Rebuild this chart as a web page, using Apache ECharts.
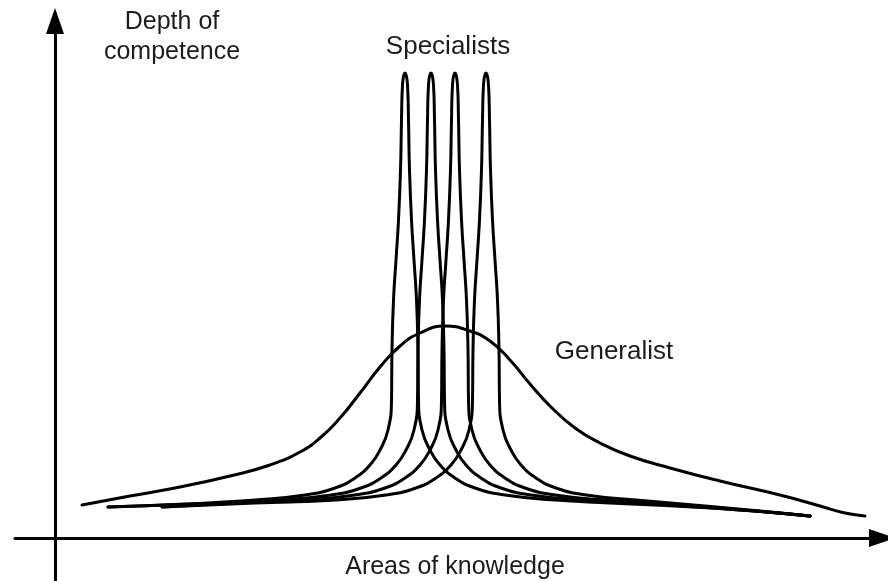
<!DOCTYPE html>
<html>
<head>
<meta charset="utf-8">
<script src="https://cdn.jsdelivr.net/npm/echarts@6/dist/echarts.min.js"></script>
<style>
  html, body { margin: 0; padding: 0; background: #fff; }
  #chart { width: 888px; height: 581px; }
</style>
</head>
<body>
<div id="chart"></div>
<script>
// x = distance along "areas of knowledge", y = depth of competence
const generalist = [
  [27, 33], [75, 42], [125, 51], [175, 62], [215, 73], [245, 86], [265, 100], [285, 120],
  [305, 145], [325, 171], [345, 192], [365, 205], [390, 212], [415, 207], [435, 197],
  [455, 178], [475, 154], [495, 132], [520, 110], [545, 95], [575, 82], [615, 70],
  [665, 57], [725, 43], [765, 32], [790, 25], [810, 22]
]

const specialist1 = [
  [53, 31], [130, 34], [200, 38], [250, 43], [280, 50], [300, 60], [315, 73], [325, 88],
  [333, 108], [336.5, 138], [337, 188], [338.5, 238], [341, 278], [343.5, 318], [345.5, 368],
  [346.5, 418], [347.5, 453], [350, 465],
  [352.5, 453], [353.5, 418], [354.5, 368], [356.5, 318], [359, 278], [361.5, 238], [363, 188],
  [363.5, 138], [367, 108], [375, 88], [385, 73], [400, 60], [420, 50], [450, 43], [500, 38],
  [620, 32], [700, 27], [755, 22]
]

const specialist2 = [
  [53, 31], [140, 34], [226, 38], [276, 43], [306, 50], [326, 60], [341, 73], [351, 88],
  [359, 108], [362.5, 138], [363, 188], [364.5, 238], [367, 278], [369.5, 318], [371.5, 368],
  [372.5, 418], [373.5, 453], [376, 465],
  [378.5, 453], [379.5, 418], [380.5, 368], [382.5, 318], [385, 278], [387.5, 238], [389, 188],
  [389.5, 138], [393, 108], [401, 88], [411, 73], [426, 60], [446, 50], [476, 43], [526, 38],
  [630, 32], [700, 27], [755, 22]
]

const specialist3 = [
  [107, 31], [180, 35], [250, 38], [300, 43], [330, 50], [350, 60], [365, 73], [375, 88],
  [383, 108], [386.5, 138], [387, 188], [388.5, 238], [391, 278], [393.5, 318], [395.5, 368],
  [396.5, 418], [397.5, 453], [400, 465],
  [402.5, 453], [403.5, 418], [404.5, 368], [406.5, 318], [409, 278], [411.5, 238], [413, 188],
  [413.5, 138], [417, 108], [425, 88], [435, 73], [450, 60], [470, 50], [500, 43], [550, 38],
  [640, 32], [700, 27], [755, 22]
]

const specialist4 = [
  [107, 31], [200, 35], [281, 38], [331, 43], [361, 50], [381, 60], [396, 73], [406, 88],
  [414, 108], [417.5, 138], [418, 188], [419.5, 238], [422, 278], [424.5, 318], [426.5, 368],
  [427.5, 418], [428.5, 453], [431, 465],
  [433.5, 453], [434.5, 418], [435.5, 368], [437.5, 318], [440, 278], [442.5, 238], [444, 188],
  [444.5, 138], [448, 108], [456, 88], [466, 73], [481, 60], [501, 50], [531, 43], [581, 38],
  [650, 32], [705, 27], [755, 22]
]

const xAxisName = 'Areas of knowledge'
const yAxisName = 'Depth of\ncompetence'
const specialistLabel = 'Specialists'
const generalistLabel = 'Generalist'

const chart = echarts.init(document.getElementById('chart'))

const lineStyle = { color: '#000', width: 3, cap: 'round', join: 'round' }
const textColor = '#1c1c1c'
const font = 'Liberation Sans, Arial, sans-serif'

// all curves share the same look
function curve(name, data) {
  return {
    name: name,
    type: 'line',
    data: data,
    showSymbol: false,
    smooth: 0.5,
    lineStyle: lineStyle,
    silent: true,
    animation: false
  }
}

function label(text, x, y, size) {
  return {
    type: 'text', x: x, y: y,
    style: {
      text: text, fill: textColor, fontSize: size, fontFamily: font,
      align: 'center', lineHeight: 30
    }
  }
}

const axisLine = {
  onZero: true,
  symbol: ['none', 'triangle'],
  symbolSize: [18, 26],
  lineStyle: { color: '#000', width: 3 }
}

chart.setOption({
  backgroundColor: '#fff',
  animation: false,
  grid: { left: 15, right: 6, top: 21, bottom: 0, outerBoundsMode: 'none', containLabel: false },
  xAxis: {
    type: 'value',
    min: -40,
    max: 827,
    axisLine: axisLine,
    axisTick: { show: false },
    axisLabel: { show: false },
    splitLine: { show: false }
  },
  yAxis: {
    type: 'value',
    min: -43,
    max: 517,
    axisLine: axisLine,
    axisTick: { show: false },
    axisLabel: { show: false },
    splitLine: { show: false }
  },
  graphic: [
    label(yAxisName, 172, 7, 25),
    label(specialistLabel, 448, 32, 26),
    label(generalistLabel, 614, 337, 26),
    label(xAxisName, 455, 552, 25)
  ],
  series: [
    curve('Generalist', generalist),
    curve('Specialist 1', specialist1),
    curve('Specialist 2', specialist2),
    curve('Specialist 3', specialist3),
    curve('Specialist 4', specialist4)
  ]
})
</script>
</body>
</html>
